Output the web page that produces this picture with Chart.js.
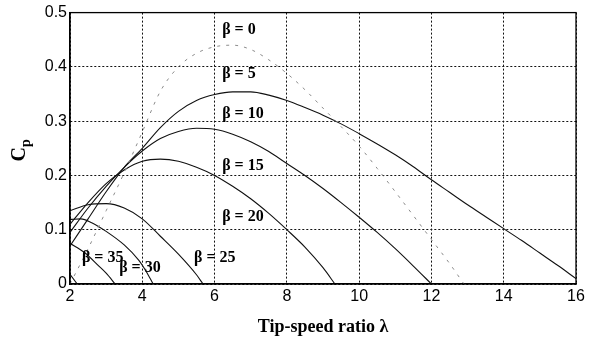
<!DOCTYPE html>
<html lang="en">
<head>
    <meta charset="UTF-8">
    <title>Cp vs tip-speed ratio</title>
    <style>
        html, body { margin: 0; padding: 0; background: #fff; }
        #wrap { width: 596px; height: 338px; }
    </style>
</head>
<body>
    <div id="wrap"><canvas id="cpChart" width="596" height="338"></canvas></div>

    <script src="https://cdn.jsdelivr.net/npm/chart.js@4.4.0/dist/chart.umd.min.js"></script>
    <script>
    // values (tip-speed ratio vs Cp), one pair of arrays per pitch angle
    var lambda0  = [2, 2.5, 3, 3.5, 4, 4.5, 5, 5.5, 6, 6.5, 7, 7.5, 8, 8.5, 9, 9.5, 10, 10.5, 11, 11.5, 12, 12.5, 12.9];
    var cpBeta0  = [0.0, 0.065, 0.135, 0.205, 0.28, 0.355, 0.4, 0.425, 0.437, 0.44, 0.432, 0.413, 0.388, 0.358, 0.324, 0.29, 0.254, 0.213, 0.17, 0.126, 0.082, 0.038, 0];

    var lambda5  = [2, 2.5, 3, 3.5, 4, 4.5, 5, 5.5, 6, 6.5, 7, 7.5, 8, 8.5, 9, 9.5, 10, 10.5, 11, 11.5, 12, 12.5, 13, 13.5, 14, 14.5, 15, 15.5, 16];
    var cpBeta5  = [0.07, 0.12, 0.17, 0.215, 0.25, 0.288, 0.318, 0.338, 0.349, 0.354, 0.354, 0.348, 0.338, 0.325, 0.311, 0.295, 0.277, 0.258, 0.238, 0.216, 0.192, 0.169, 0.146, 0.124, 0.102, 0.08, 0.057, 0.034, 0.01];

    var lambda10 = [2, 2.5, 3, 3.5, 4, 4.5, 5, 5.5, 6, 6.5, 7, 7.5, 8, 8.5, 9, 9.5, 10, 10.5, 11, 11.5, 12];
    var cpBeta10 = [0.095, 0.14, 0.18, 0.215, 0.245, 0.268, 0.281, 0.287, 0.285, 0.276, 0.262, 0.244, 0.222, 0.2, 0.176, 0.15, 0.123, 0.095, 0.065, 0.033, 0];

    var lambda15 = [2, 2.5, 3, 3.5, 4, 4.5, 5, 5.5, 6, 6.5, 7, 7.5, 8, 8.5, 9, 9.33];
    var cpBeta15 = [0.11, 0.15, 0.185, 0.21, 0.226, 0.23, 0.226, 0.215, 0.2, 0.18, 0.157, 0.13, 0.1, 0.068, 0.03, 0];

    var lambda20 = [2, 2.5, 3, 3.5, 4, 4.5, 5, 5.5, 5.68];
    var cpBeta20 = [0.135, 0.146, 0.148, 0.14, 0.12, 0.088, 0.055, 0.017, 0];

    var lambda25 = [2, 2.3, 2.6, 3, 3.5, 3.9, 4.1, 4.3];
    var cpBeta25 = [0.119, 0.12, 0.113, 0.097, 0.072, 0.044, 0.024, 0];

    var lambda30 = [2, 2.4, 2.8, 3, 3.25];
    var cpBeta30 = [0.075, 0.058, 0.033, 0.02, 0];

    var lambda35 = [2, 2.2];
    var cpBeta35 = [0.018, 0];

    var betaNames = ['β = 0', 'β = 5', 'β = 10', 'β = 15', 'β = 20', 'β = 25', 'β = 30', 'β = 35'];
    var xTicks = [2, 4, 6, 8, 10, 12, 14, 16];
    var yTicks = [0, 0.1, 0.2, 0.3, 0.4, 0.5];

    var lambdas = [lambda0, lambda5, lambda10, lambda15, lambda20, lambda25, lambda30, lambda35];
    var cps = [cpBeta0, cpBeta5, cpBeta10, cpBeta15, cpBeta20, cpBeta25, cpBeta30, cpBeta35];

    function pairs(xs, ys) {
        return xs.map(function (x, i) { return { x: x, y: ys[i] }; });
    }

    var datasets = betaNames.map(function (name, i) {
        var first = i === 0;
        return {
            label: name,
            data: pairs(lambdas[i], cps[i]),
            showLine: true,
            borderColor: first ? '#8c8c8c' : '#111',
            borderWidth: first ? 1 : 1.1,
            borderDash: first ? [3, 6] : [],
            pointRadius: 0,
            cubicInterpolationMode: 'monotone',
            fill: false
        };
    });

    // where the beta labels sit, in data units (left edge, vertical centre)
    var labelSpots = [
        [6.21, 0.469], [6.21, 0.388], [6.21, 0.313], [6.21, 0.218],
        [6.21, 0.123], [5.43, 0.048], [3.36, 0.029], [2.33, 0.049]
    ];

    var extras = {
        id: 'extras',
        afterDraw: function (chart) {
            var ctx = chart.ctx, a = chart.chartArea;
            var xs = chart.scales.x, ys = chart.scales.y;
            ctx.save();
            // solid box round the plot
            ctx.strokeStyle = '#000';
            ctx.lineWidth = 1.3;
            ctx.strokeRect(a.left, a.top, a.right - a.left, a.bottom - a.top);

            // beta labels
            ctx.fillStyle = '#000';
            ctx.font = 'bold 16px "Liberation Serif", "Times New Roman", serif';
            ctx.textAlign = 'left';
            ctx.textBaseline = 'middle';
            betaNames.forEach(function (name, i) {
                var p = labelSpots[i];
                ctx.fillText(name, xs.getPixelForValue(p[0]), ys.getPixelForValue(p[1]));
            });

            // y title C with subscript p
            ctx.translate(25, (a.top + a.bottom) / 2 + 2);
            ctx.rotate(-Math.PI / 2);
            ctx.textAlign = 'left';
            ctx.textBaseline = 'alphabetic';
            ctx.font = 'bold 20px "Liberation Serif", "Times New Roman", serif';
            var w = ctx.measureText('C').width;
            ctx.fillText('C', -w / 2 - 4, 0);
            ctx.font = 'bold 14px "Liberation Serif", "Times New Roman", serif';
            ctx.fillText('p', w / 2 - 4, 5);
            ctx.restore();
        }
    };

    var tickFont = { family: '"Liberation Sans", Arial, sans-serif', size: 16 };

    new Chart(document.getElementById('cpChart'), {
        type: 'scatter',
        data: { datasets: datasets },
        options: {
            responsive: false,
            animation: false,
            layout: { padding: { left: 0, top: 11, right: 20, bottom: 0 } },
            plugins: {
                legend: { display: false },
                tooltip: { enabled: false }
            },
            scales: {
                x: {
                    type: 'linear',
                    min: 2, max: 16,
                    afterBuildTicks: function (s) { s.ticks = xTicks.map(function (v) { return { value: v }; }); },
                    afterFit: function (s) { s.height = 54; },
                    grid: { color: '#111', lineWidth: 1, tickLength: 0 },
                    border: { display: true, color: '#000', width: 1.3, dash: [2, 2] },
                    ticks: { color: '#000', font: tickFont, padding: 3, maxRotation: 0 },
                    title: {
                        display: true,
                        text: 'Tip-speed ratio λ',
                        color: '#000',
                        font: { family: '"Liberation Serif", "Times New Roman", serif', size: 18, weight: 'bold' },
                        padding: { top: 4, bottom: 0 }
                    }
                },
                y: {
                    type: 'linear',
                    min: 0, max: 0.5,
                    afterBuildTicks: function (s) { s.ticks = yTicks.map(function (v) { return { value: v }; }); },
                    afterFit: function (s) { s.width = 70; },
                    grid: { color: '#111', lineWidth: 1, tickLength: 0 },
                    border: { display: true, color: '#000', width: 1.3, dash: [2, 2] },
                    ticks: {
                        color: '#000', font: tickFont, padding: 3,
                        callback: function (v) { return v === 0 ? '0' : v.toFixed(1); }
                    }
                }
            }
        },
        plugins: [extras]
    });
    </script>
</body>
</html>
